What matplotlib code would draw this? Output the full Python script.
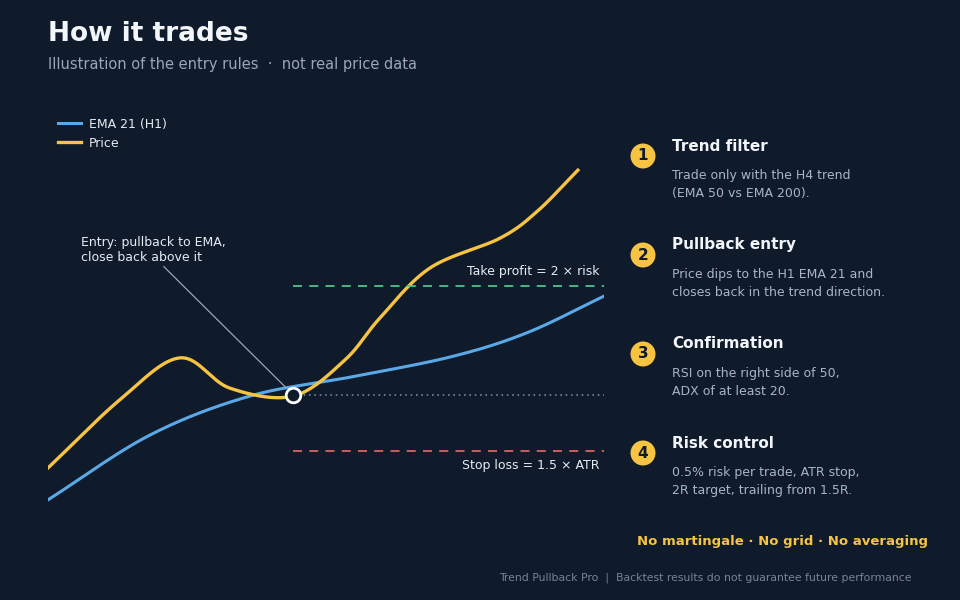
import numpy as np
import matplotlib
matplotlib.use("Agg")
import matplotlib.pyplot as plt
from matplotlib.patches import Ellipse

BG = "#0f1a2b"
GOLD = "#f6c343"
BLUE = "#5aa9e6"

price_x = [0, 12.9, 23.7, 32.7, 44.1, 53.4, 59.7, 68.7, 81.3, 88.0, 95.3]
price_y = [12.4, 28.6, 38.6, 31.4, 29.5, 38.1, 48.1, 60.0, 67.1, 73.5, 83.3]
ema_x = [0, 18.3, 36.3, 54.3, 72.3, 86.0, 100]
ema_y = [4.8, 20.2, 29.5, 34.0, 38.8, 44.5, 53.3]
entry = (44.1, 29.8)
take_profit = 55.7
stop_loss = 16.4

steps = [
    ("1", "Trend filter", "Trade only with the H4 trend\n(EMA 50 vs EMA 200)."),
    ("2", "Pullback entry", "Price dips to the H1 EMA 21 and\ncloses back in the trend direction."),
    ("3", "Confirmation", "RSI on the right side of 50,\nADX of at least 20."),
    ("4", "Risk control", "0.5% risk per trade, ATR stop,\n2R target, trailing from 1.5R."),
]

def catmull(xs, ys, n=40):
    P = np.column_stack([xs, ys]).astype(float)
    P = np.vstack([2*P[0]-P[1], P, 2*P[-1]-P[-2]])
    out = []
    for i in range(1, len(P) - 2):
        p0, p1, p2, p3 = P[i-1], P[i], P[i+1], P[i+2]
        t = np.linspace(0, 1, n, endpoint=False)[:, None]
        out.append(0.5*((2*p1) + (-p0+p2)*t + (2*p0-5*p1+4*p2-p3)*t**2 + (-p0+3*p1-3*p2+p3)*t**3))
    out.append(P[-2][None, :])
    o = np.vstack(out)
    return o[:, 0], o[:, 1]

fig = plt.figure(figsize=(9.6, 6), dpi=100, facecolor=BG)
ax = fig.add_axes([48/960, 80/600, 556/960, 420/600])
ax.set_facecolor(BG)
ax.set_xlim(0, 100)
ax.set_ylim(0, 100)
ax.axis("off")

ex, ey = catmull(ema_x, ema_y)
px, py = catmull(price_x, price_y)
ax.plot(ex, ey, color=BLUE, lw=2.2, label="EMA 21 (H1)")
ax.plot(px, py, color=GOLD, lw=2.4, label="Price")
ax.plot([entry[0], 100], [take_profit]*2, color="#4fc38a", lw=1.3, ls=(0, (5, 4)))
ax.plot([entry[0], 100], [stop_loss]*2, color="#e0605a", lw=1.3, ls=(0, (5, 4)))
ax.plot([entry[0], 100], [entry[1]]*2, color="#8a94a6", lw=1.1, ls=(0, (1, 2.5)))
ax.scatter([entry[0]], [entry[1]], s=110, facecolor=BG, edgecolor="white", lw=2, zorder=5)
ax.text(99.2, take_profit + 1.8, "Take profit = 2 × risk", color="#e6ebf2", fontsize=9, ha="right", va="bottom")
ax.text(99.2, stop_loss - 1.8, "Stop loss = 1.5 × ATR", color="#e6ebf2", fontsize=9, ha="right", va="top")
ax.annotate("Entry: pullback to EMA,\nclose back above it", xy=(entry[0]-0.6, entry[1]+0.8), xytext=(6, 61),
            color="#e6ebf2", fontsize=9, ha="left", va="bottom",
            arrowprops=dict(arrowstyle="-", color="#9aa5b8", lw=0.9, shrinkA=0, shrinkB=4,
                            relpos=(0.55, 0)))
ax.legend(loc="upper left", bbox_to_anchor=(-0.003, 0.985), frameon=False, fontsize=9,
          labelcolor="#e6ebf2", handlelength=1.9, handletextpad=0.6, labelspacing=0.5)

fig.text(48/960, 1-34/600, "How it trades", color="#f2f5f9", fontsize=19, fontweight="bold", va="center")
fig.text(48/960, 1-64/600, "Illustration of the entry rules  ·  not real price data", color="#9aa7bb", fontsize=10.5, va="center")

for i, (num, title, desc) in enumerate(steps):
    cy = 156 + 99*i
    fig.add_artist(Ellipse((643/960, 1-cy/600), 25/960, 25/600, transform=fig.transFigure,
                           facecolor=GOLD, edgecolor="none"))
    fig.text(643/960, 1-cy/600, num, color=BG, fontsize=11, fontweight="bold", ha="center", va="center")
    fig.text(672/960, 1-(cy-10)/600, title, color="#f2f5f9", fontsize=11, fontweight="bold", va="center")
    fig.text(672/960, 1-(cy+13)/600, desc, color="#a9b4c8", fontsize=9, va="top", linespacing=1.5)

fig.text(928/960, 1-542/600, "No martingale · No grid · No averaging", color=GOLD, fontsize=9.5, fontweight="bold", ha="right", va="center")
fig.text(912/960, 1-578/600, "Trend Pullback Pro  |  Backtest results do not guarantee future performance", color="#76839a", fontsize=7.8, ha="right", va="center")

fig.savefig("out.png", dpi=100, facecolor=BG)
